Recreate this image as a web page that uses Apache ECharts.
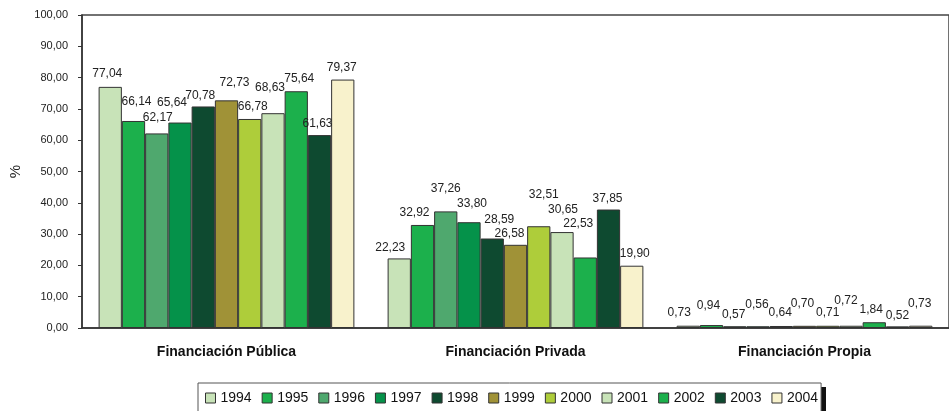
<!DOCTYPE html>
<html>
<head>
<meta charset="utf-8">
<script src="https://cdn.jsdelivr.net/npm/echarts@6/dist/echarts.min.js"></script>
<style>
html,body{margin:0;padding:0;background:#fff;}
#chart{width:949px;height:411px;}
</style>
</head>
<body>
<div id="chart"></div>
<script>
const categories = ['Financiación Pública', 'Financiación Privada', 'Financiación Propia'];
const years = ['1994','1995','1996','1997','1998','1999','2000','2001','2002','2003','2004'];
const v1994 = [77.04, 22.23, 0.73];
const v1995 = [66.14, 32.92, 0.94];
const v1996 = [62.17, 37.26, 0.57];
const v1997 = [65.64, 33.80, 0.56];
const v1998 = [70.78, 28.59, 0.64];
const v1999 = [72.73, 26.58, 0.70];
const v2000 = [66.78, 32.51, 0.71];
const v2001 = [68.63, 30.65, 0.72];
const v2002 = [75.64, 22.53, 1.84];
const v2003 = [61.63, 37.85, 0.52];
const v2004 = [79.37, 19.90, 0.73];
const seriesValues = [v1994, v1995, v1996, v1997, v1998, v1999, v2000, v2001, v2002, v2003, v2004];
const colors = ['#c8e3b8','#1cb04c','#4fa86e','#05924a','#0e4a30','#a09237','#aecd3a','#c8e3b8','#1cb04c','#0e4a30','#f8f2cc'];

// label nudges (style only), per category, per series: [dx, dy]
const labelNudge = [
  [[-3,0],[3,-6],[1,-3],[-8,-7],[-3,2],[8,-5],[3,1],[-3,-13],[3,0],[-2,2],[-1,1]],
  [[-9,2],[-8,1],[0,-10],[3,-6],[7,-6],[-6,2],[5,-19],[1,-9],[-7,-21],[-1,2],[3,1]],
  [[-9,0],[-3,-6],[-1,1],[-1,-9],[-1,0],[-2,-9],[0,0],[-5,-12],[-3,0],[0,2],[-1,-9]]
];

const fmt = v => v.toFixed(2).replace('.', ',');
const font = 'Liberation Sans, Arial, sans-serif';

const chart = echarts.init(document.getElementById('chart'));
chart.setOption({
  animation: false,
  color: colors,
  textStyle: { fontFamily: font },
  grid: { left: 82, top: 15, width: 875, bottom: 83, show: true, borderColor: '#444', borderWidth: 1.5, backgroundColor: 'transparent' },
  graphic: [{
    type: 'rect', left: 204, top: 387, z: 0,
    shape: { width: 622, height: 40 },
    style: { fill: '#111' }
  }],
  legend: {
    left: 198, top: 383, z: 10,
    icon: 'rect',
    itemWidth: 10, itemHeight: 10, itemGap: 10,
    padding: [8, 3, 8, 7],
    borderColor: '#555', borderWidth: 1,
    backgroundColor: '#fff',
    textStyle: { fontSize: 14, color: '#111', fontFamily: font },
    itemStyle: { borderColor: '#333', borderWidth: 1 },
    data: years
  },
  xAxis: {
    type: 'category', data: categories,
    axisLine: { lineStyle: { color: '#333', width: 1.5 } },
    axisTick: { length: 4, lineStyle: { color: '#333' } },
    axisLabel: { fontSize: 14, fontWeight: 'bold', color: '#111', margin: 17, fontFamily: font }
  },
  yAxis: {
    type: 'value', min: 0, max: 100, interval: 10,
    name: '%', nameLocation: 'middle', nameGap: 56, nameRotate: 90,
    nameTextStyle: { fontSize: 15, color: '#222', fontFamily: font },
    axisLine: { show: true, lineStyle: { color: '#333', width: 1.5 } },
    axisTick: { show: true, length: 4, lineStyle: { color: '#333' } },
    splitLine: { show: false },
    axisLabel: { fontSize: 11, color: '#222', margin: 14, formatter: v => fmt(v), fontFamily: font }
  },
  series: seriesValues.map((vals, i) => ({
    name: years[i], type: 'bar',
    data: vals.map((v, j) => ({ value: v, label: { offset: labelNudge[j][i] } })),
    barGap: '0%', barCategoryGap: '11.5%',
    itemStyle: { borderColor: '#333', borderWidth: 1 },
    label: { show: true, position: 'top', distance: 7, fontSize: 12, color: '#222', fontFamily: font, formatter: p => fmt(p.value) }
  }))
});
</script>
</body>
</html>
